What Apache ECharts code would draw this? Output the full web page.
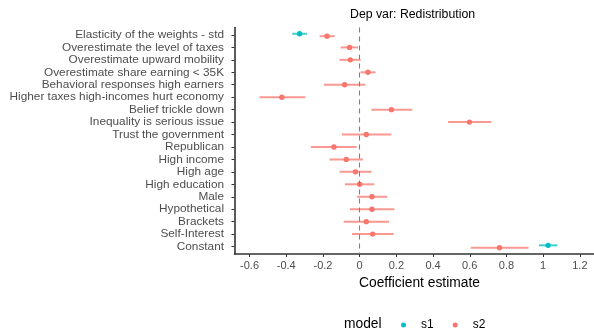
<!DOCTYPE html>
<html>
<head>
<meta charset="utf-8">
<script src="https://cdn.jsdelivr.net/npm/echarts@6/dist/echarts.min.js"></script>
<style>
html,body{margin:0;padding:0;background:#fff;}
#chart{width:594px;height:328px;}
</style>
</head>
<body>
<div id="chart"></div>
<script>
const categories = [
  "Elasticity of the weights - std",
  "Overestimate the level of taxes",
  "Overestimate upward mobility",
  "Overestimate share earning < 35K",
  "Behavioral responses high earners",
  "Higher taxes high-incomes hurt economy",
  "Belief trickle down",
  "Inequality is serious issue",
  "Trust the government",
  "Republican",
  "High income",
  "High age",
  "High education",
  "Male",
  "Hypothetical",
  "Brackets",
  "Self-Interest",
  "Constant"
];
const s2Est = [-0.178, -0.055, -0.051, 0.045, -0.082, -0.424, 0.173, 0.598, 0.036, -0.140, -0.073, -0.023, 0.000, 0.067, 0.067, 0.036, 0.071, 0.762];
const s2Lo  = [-0.218, -0.104, -0.109, 0.004, -0.195, -0.546, 0.064, 0.482, -0.097, -0.266, -0.164, -0.109, -0.080, -0.015, -0.053, -0.087, -0.042, 0.606];
const s2Hi  = [-0.136, -0.009, 0.005, 0.087, 0.031, -0.296, 0.287, 0.718, 0.173, -0.016, 0.018, 0.065, 0.080, 0.151, 0.189, 0.160, 0.185, 0.920];
const s1Terms = ["Elasticity of the weights - std", "Constant"];
const s1Est = [-0.327, 1.027];
const s1Lo  = [-0.367, 0.977];
const s1Hi  = [-0.287, 1.078];
const xTicks = [-0.6, -0.4, -0.2, 0, 0.2, 0.4, 0.6, 0.8, 1, 1.2];
const models = ["s1", "s2"];

const FONT = "Liberation Sans, Arial, sans-serif";
const colors = {s1: "#00BFC4", s2: "#F8766D"};

const s2Data = categories.map((c, i) => [s2Lo[i], s2Hi[i], s2Est[i], i]);
const s1Data = s1Terms.map((t, j) => [s1Lo[j], s1Hi[j], s1Est[j], categories.indexOf(t)]);
const sharedRows = new Set(s1Data.map(d => d[3]));
const rowTicks = categories.map((c, i) => i);

function makeRender(color, dodge) {
  return function (params, api) {
    const lo = api.value(0), hi = api.value(1), est = api.value(2), idx = api.value(3);
    const dy = sharedRows.has(idx) ? dodge : 0;
    const p1 = api.coord([lo, idx]);
    const p2 = api.coord([hi, idx]);
    const pc = api.coord([est, idx]);
    return {
      type: 'group',
      children: [
        {type: 'line', shape: {x1: p1[0], y1: p1[1] + dy, x2: p2[0], y2: p2[1] + dy},
         style: {stroke: color, lineWidth: 2, opacity: 0.75}},
        {type: 'circle', shape: {cx: pc[0], cy: pc[1] + dy, r: 2.7},
         style: {fill: color}}
      ]
    };
  };
}

const chart = echarts.init(document.getElementById('chart'), null, {renderer: 'canvas'});
chart.setOption({
  backgroundColor: '#ffffff',
  animation: false,
  textStyle: {fontFamily: FONT},
  grid: {left: 234.5, right: 0, top: 27.5, bottom: 74, containLabel: false},
  xAxis: {
    type: 'value',
    min: -0.682,
    max: 1.277,
    splitLine: {show: false},
    axisLine: {show: true, onZero: false, lineStyle: {color: '#333333', width: 1.6}},
    axisTick: {show: true, length: 3, customValues: xTicks, lineStyle: {color: '#333333', width: 1}},
    axisLabel: {customValues: xTicks, color: '#4D4D4D', fontSize: 11, margin: 6, fontFamily: FONT,
      formatter: v => String(Math.round(v * 10) / 10)}
  },
  yAxis: {
    type: 'value',
    inverse: true,
    min: -0.6,
    max: 17.6,
    splitLine: {show: false},
    axisLine: {show: true, onZero: false, lineStyle: {color: '#333333', width: 1.6}},
    axisTick: {show: true, length: 3, customValues: rowTicks, lineStyle: {color: '#333333', width: 1}},
    axisLabel: {customValues: rowTicks, color: '#4D4D4D', fontSize: 11.8, margin: 10.5, fontFamily: FONT,
      formatter: v => categories[Math.round(v)] || ''}
  },
  legend: {
    data: models,
    left: 396,
    top: 314,
    icon: 'circle',
    itemWidth: 25,
    itemHeight: 5,
    itemGap: 19,
    textStyle: {fontSize: 12, color: '#000000', fontFamily: FONT}
  },
  graphic: [
    {type: 'text', left: 350, top: 9, style: {text: 'Dep var: Redistribution', fontSize: 12.3, fill: '#000000', fontFamily: FONT}},
    {type: 'text', left: 359, top: 276, style: {text: 'Coefficient estimate', fontSize: 13.8, fill: '#000000', fontFamily: FONT}},
    {type: 'text', left: 344, top: 317, style: {text: 'model', fontSize: 13.8, fill: '#000000', fontFamily: FONT}}
  ],
  series: [
    {
      name: 's1', type: 'custom', data: s1Data, itemStyle: {color: colors.s1},
      encode: {x: [0, 1, 2], y: 3}, renderItem: makeRender(colors.s1, -1.2), z: 3
    },
    {
      name: 's2', type: 'custom', data: s2Data, itemStyle: {color: colors.s2},
      encode: {x: [0, 1, 2], y: 3}, renderItem: makeRender(colors.s2, 1.2), z: 2,
      markLine: {
        silent: true, symbol: 'none', label: {show: false},
        lineStyle: {color: '#808080', type: [5, 4], width: 1.1},
        data: [{xAxis: 0}]
      }
    }
  ]
});
</script>
</body>
</html>
